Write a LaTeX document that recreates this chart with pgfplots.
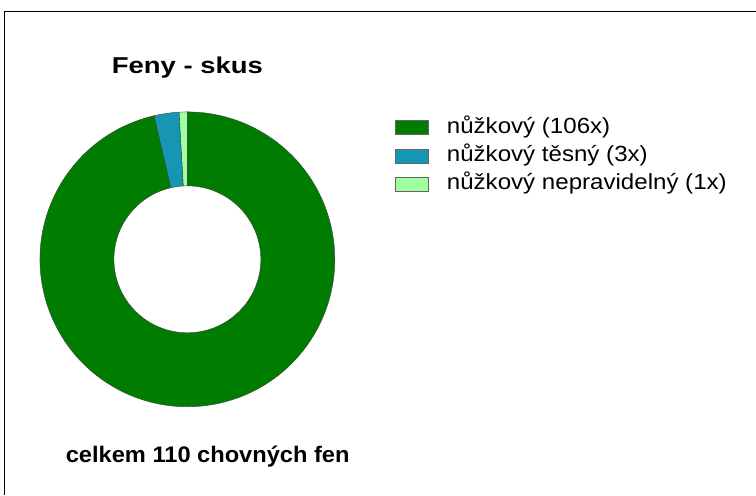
\documentclass[border=0pt]{standalone}
\usepackage{graphicx}
\usepackage{pgfplots}
\pgfplotsset{compat=1.18}
\usepackage{fontspec}
\setmainfont{Liberation Sans}
\definecolor{cA}{RGB}{0,125,0}
\definecolor{cB}{RGB}{22,150,178}
\definecolor{cC}{RGB}{160,255,160}
% data: counts
\def\vA{106}\def\vB{3}\def\vC{1}
\pgfmathsetmacro\tot{\vA+\vB+\vC}
\pgfmathsetmacro\aZ{90}
\pgfmathsetmacro\aC{90+360/\tot*\vC}
\pgfmathsetmacro\aB{\aC+360/\tot*\vB}
\pgfmathsetmacro\aA{\aB+360/\tot*\vA}
\def\cx{187.5}\def\cy{235.5}\def\Ro{147.5}\def\Ri{73.5}
\newcommand\slice[3]{%
  \filldraw[fill=#1,draw=black!75,line width=0.4pt]
    (axis cs:{\cx+\Ro*cos(#2)},{\cy+\Ro*sin(#2)}) arc[start angle=#2,end angle=#3,radius=\Ro bp]
    -- (axis cs:{\cx+\Ri*cos(#3)},{\cy+\Ri*sin(#3)}) arc[start angle=#3,end angle=#2,radius=\Ri bp] -- cycle;}
\newcommand\legitem[3]{%
  \filldraw[fill=#1,draw=black!60,line width=0.5pt] (axis cs:396,#2-1) rectangle (axis cs:428.7,#2+13);
  \node[anchor=base west,inner sep=0] at (axis cs:447,#2) {\scalebox{1.1}[1]{\fontsize{22}{24}\selectfont #3}};}
\begin{document}
\begin{tikzpicture}
\begin{axis}[scale only axis,width=756bp,height=495bp,
  xmin=0,xmax=756,ymin=0,ymax=495,hide axis,clip=false,
  x=1bp,y=1bp]
\path (axis cs:0,0) rectangle (axis cs:756,495);
\draw[black,line width=1bp] (axis cs:5,0) -- (axis cs:5,483) -- (axis cs:756,483);
\slice{cC}{\aZ}{\aC}
\slice{cB}{\aC}{\aB}
\slice{cA}{\aB}{\aA}
\node[anchor=base,inner sep=0] at (axis cs:187.5,421) {\scalebox{1.2}[1]{\fontsize{23}{26}\selectfont\bfseries Feny - skus}};
\node[anchor=base west,inner sep=0] at (axis cs:65.7,31.7) {\scalebox{1.05}[1]{\fontsize{22.6}{25}\selectfont\bfseries celkem 110 chovných fen}};
\legitem{cA}{361.5}{nůžkový (106x)}
\legitem{cB}{333}{nůžkový těsný (3x)}
\legitem{cC}{305}{nůžkový nepravidelný (1x)}
\end{axis}
\end{tikzpicture}
\end{document}
